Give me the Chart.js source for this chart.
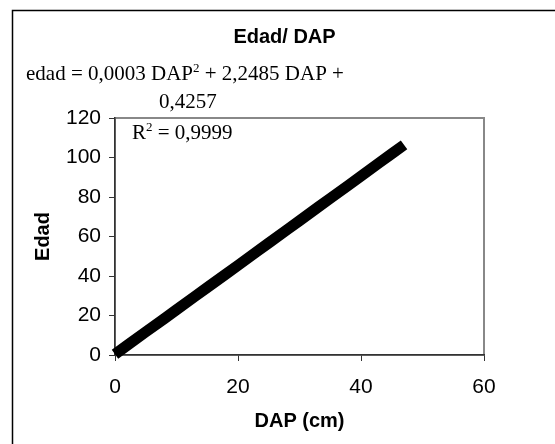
<!DOCTYPE html>
<html lang="es">
<head>
<meta charset="UTF-8">
<title>Edad/ DAP</title>
<script src="https://cdn.jsdelivr.net/npm/chart.js"></script>
<style>
    html, body { margin: 0; padding: 0; background: #fff; }
    #wrap { width: 555px; height: 444px; }
</style>
</head>
<body>
<div id="wrap"><canvas id="chart" width="555" height="444"></canvas></div>
<script>
    // valores
    const dap = [0, 2, 5, 8, 10, 13, 15, 18, 20, 23, 25, 28, 30, 33, 35, 38, 40, 43, 45, 47];
    const edad = [0.4, 4.9, 11.7, 18.4, 22.9, 29.7, 34.2, 40.9, 45.4, 52.2, 56.7, 63.5, 68, 74.8, 79.3, 86, 90.6, 97.4, 101.9, 106.4];
    const xTicks = [0, 20, 40, 60];
    const yTicks = [0, 20, 40, 60, 80, 100, 120];

    const sans = "'Liberation Sans', Arial, sans-serif";
    const serif = "'Liberation Serif', 'Times New Roman', serif";

    // marco exterior, título y ecuación de tendencia
    const decor = {
        id: 'decor',
        beforeDraw(chart) {
            const ctx = chart.ctx;
            const a = chart.chartArea;
            ctx.save();
            ctx.strokeStyle = '#000';
            ctx.lineWidth = 1.5;
            ctx.beginPath();
            ctx.moveTo(12.5, 444);
            ctx.lineTo(12.5, 10.5);
            ctx.lineTo(555, 10.5);
            ctx.stroke();

            ctx.strokeStyle = '#888';
            ctx.lineWidth = 2;
            ctx.strokeRect(a.left, a.top, a.right - a.left, a.bottom - a.top);
            ctx.restore();
        },
        afterDraw(chart) {
            const ctx = chart.ctx;
            ctx.save();
            ctx.fillStyle = '#000';
            ctx.textBaseline = 'alphabetic';

            ctx.font = 'bold 20px ' + sans;
            ctx.textAlign = 'center';
            ctx.fillText('Edad/ DAP', 284.5, 43);

            ctx.textAlign = 'left';
            const parts = [
                ['edad = 0,0003 DAP', 0],
                ['2', 1],
                [' + 2,2485 DAP +', 0]
            ];
            let x = 26;
            parts.forEach(([t, sup]) => {
                ctx.font = (sup ? '13px ' : '21px ') + serif;
                ctx.fillText(t, x, sup ? 72 : 80);
                x += ctx.measureText(t).width;
            });

            ctx.font = '21px ' + serif;
            ctx.fillText('0,4257', 159, 108);

            x = 132;
            [['R', 0], ['2', 1], [' = 0,9999', 0]].forEach(([t, sup]) => {
                ctx.font = (sup ? '13px ' : '21px ') + serif;
                ctx.fillText(t, x, sup ? 131 : 139);
                x += ctx.measureText(t).width;
            });
            ctx.restore();
        }
    };

    new Chart(document.getElementById('chart'), {
        type: 'scatter',
        data: {
            datasets: [{
                label: 'Edad',
                data: dap.map((d, i) => ({ x: d, y: edad[i] })),
                showLine: true,
                borderColor: '#000',
                backgroundColor: '#000',
                borderWidth: 11,
                borderCapStyle: 'butt',
                borderJoinStyle: 'round',
                pointRadius: 0,
                clip: false
            }]
        },
        options: {
            responsive: false,
            animation: false,
            layout: { padding: { left: 0, top: 118, right: 71, bottom: 0 } },
            plugins: {
                legend: { display: false },
                title: { display: false },
                tooltip: { enabled: false }
            },
            scales: {
                x: {
                    type: 'linear',
                    min: 0,
                    max: 60,
                    afterFit: s => { s.height = 89; },
                    afterBuildTicks: s => { s.ticks = xTicks.map(v => ({ value: v })); },
                    grid: { drawOnChartArea: false, drawTicks: true, tickLength: 6, color: '#333' },
                    border: { color: '#333', width: 1.5 },
                    ticks: { color: '#000', padding: 14, font: { family: sans, size: 21 } },
                    title: {
                        display: true,
                        text: 'DAP (cm)',
                        color: '#000',
                        font: { family: sans, size: 20, weight: 'bold' },
                        padding: { top: 0, bottom: 11 }
                    }
                },
                y: {
                    type: 'linear',
                    min: 0,
                    max: 120,
                    afterFit: s => { s.width = 115; },
                    afterBuildTicks: s => { s.ticks = yTicks.map(v => ({ value: v })); },
                    grid: { drawOnChartArea: false, drawTicks: true, tickLength: 6, color: '#333' },
                    border: { color: '#333', width: 1.5 },
                    ticks: { color: '#000', padding: 8, font: { family: sans, size: 21 } },
                    title: {
                        display: true,
                        text: 'Edad',
                        color: '#000',
                        font: { family: sans, size: 20, weight: 'bold' },
                        padding: { top: 31, bottom: 0 }
                    }
                }
            }
        },
        plugins: [decor]
    });
</script>
</body>
</html>
